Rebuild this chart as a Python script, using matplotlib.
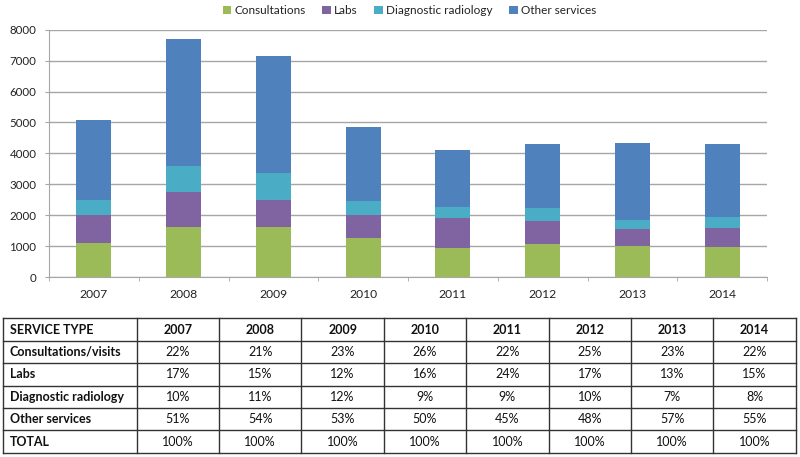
import numpy as np
import matplotlib.pyplot as plt

plt.rcParams['font.family'] = ['Lato', 'DejaVu Sans']

years = ['2007', '2008', '2009', '2010', '2011', '2012', '2013', '2014']

# stacked bar values
consultations = [1110, 1630, 1630, 1250, 930, 1060, 1000, 960]
labs = [895, 1130, 860, 755, 970, 750, 560, 625]
diag_radiology = [485, 840, 885, 455, 375, 430, 300, 345]
other_services = [2590, 4100, 3785, 2405, 1845, 2060, 2480, 2380]

series_names = ['Consultations', 'Labs', 'Diagnostic radiology', 'Other services']
colors = ['#9bbb59', '#8064a2', '#4bacc6', '#4f81bd']

# percentage table
row_labels = ['Consultations/visits', 'Labs', 'Diagnostic radiology', 'Other services', 'TOTAL']
pct_consult = ['22%', '21%', '23%', '26%', '22%', '25%', '23%', '22%']
pct_labs = ['17%', '15%', '12%', '16%', '24%', '17%', '13%', '15%']
pct_diag = ['10%', '11%', '12%', '9%', '9%', '10%', '7%', '8%']
pct_other = ['51%', '54%', '53%', '50%', '45%', '48%', '57%', '55%']
pct_total = ['100%'] * 8

W, H = 800, 457
fig = plt.figure(figsize=(W / 100, H / 100), dpi=100)

# bar chart
ax = fig.add_axes([49 / W, 1 - 277 / H, 718 / W, (277 - 29.7) / H])
x = np.arange(len(years))
bottom = np.zeros(len(years))
for vals, name, c in zip([consultations, labs, diag_radiology, other_services], series_names, colors):
    ax.bar(x, vals, width=0.39, bottom=bottom, color=c, label=name, zorder=3)
    bottom += np.array(vals)

ax.set_xlim(-0.5, len(years) - 0.5)
ax.set_ylim(0, 8000)
ax.set_yticks(np.arange(0, 8001, 1000))
ax.set_xticks(x)
ax.set_xticklabels(years)
ax.set_xticks(np.arange(-0.5, len(years), 1), minor=True)
ax.grid(axis='y', color='#a6a6a6', lw=1, zorder=0)
for s in ['top', 'right']:
    ax.spines[s].set_visible(False)
for s in ['left', 'bottom']:
    ax.spines[s].set_color('#a6a6a6')
ax.tick_params(axis='y', length=3, color='#a6a6a6', labelsize=8.3, pad=6, labelcolor='#222222')
ax.tick_params(axis='x', which='major', length=0, labelsize=8.7, pad=9, labelcolor='#222222')
ax.tick_params(axis='x', which='minor', length=3, color='#a6a6a6')

fig.legend(loc='upper center', bbox_to_anchor=(0.512, 1.012), ncol=4, frameon=False,
           fontsize=8.5, handlelength=0.7, handleheight=0.7, handletextpad=0.3,
           columnspacing=1.4, labelcolor='#222222')

# table
tx0, ty0, tx1, ty1 = 2.7, 318.3, 795.7, 452.7
tab = fig.add_axes([tx0 / W, 1 - ty1 / H, (tx1 - tx0) / W, (ty1 - ty0) / H])
tw = tx1 - tx0
first_w = 134.0
col_w = (tw - first_w) / len(years)
col_edges = [0, first_w] + [first_w + col_w * (i + 1) for i in range(len(years))]
nrows = len(row_labels) + 1
tab.set_xlim(0, tw)
tab.set_ylim(nrows, 0)
tab.axis('off')

for e in col_edges:
    tab.plot([e, e], [0, nrows], color='#333333', lw=1, clip_on=False)
for r in range(nrows + 1):
    tab.plot([0, tw], [r, r], color='#333333', lw=1, clip_on=False)

fs = 9.0
tab.text(7, 0.5, 'SERVICE TYPE', ha='left', va='center', fontsize=fs, fontweight='bold', color='#111111')
for i, yr in enumerate(years):
    tab.text(first_w + col_w * (i + 0.5), 0.5, yr, ha='center', va='center',
             fontsize=fs, fontweight='bold', color='#111111')

rows = [pct_consult, pct_labs, pct_diag, pct_other, pct_total]
for r, (lab, vals) in enumerate(zip(row_labels, rows)):
    yy = r + 1.5
    tab.text(7, yy, lab, ha='left', va='center', fontsize=fs, fontweight='bold', color='#111111')
    for i, v in enumerate(vals):
        tab.text(first_w + col_w * (i + 0.5), yy, v, ha='center', va='center',
                 fontsize=fs, color='#111111')

fig.savefig('out.png', dpi=100)
